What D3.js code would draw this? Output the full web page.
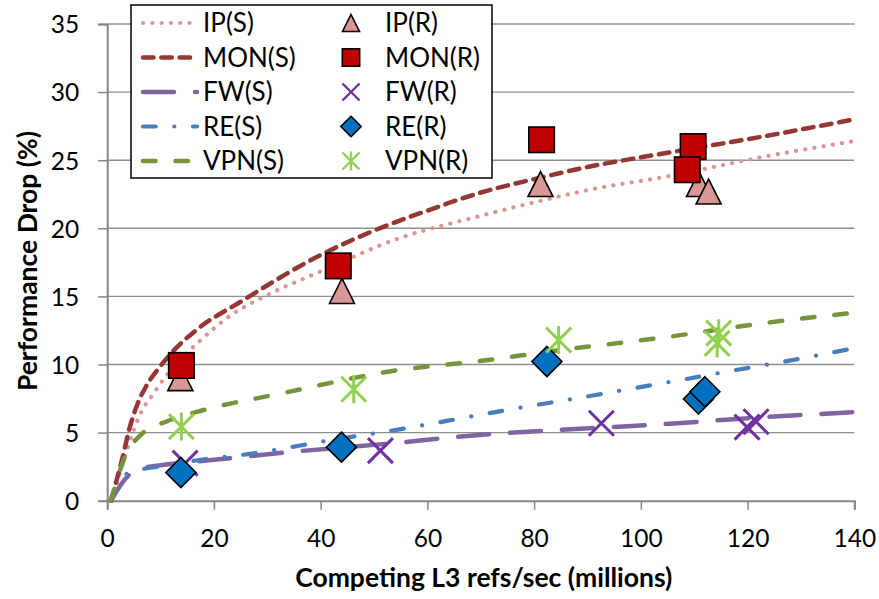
<!DOCTYPE html>
<html>
<head>
<meta charset="utf-8">
<script src="https://cdn.jsdelivr.net/npm/d3@7"></script>
<style>
  html, body { margin: 0; padding: 0; background: #fff; }
  svg { display: block; }
  text { font-family: Lato, "Open Sans", "Liberation Sans", sans-serif; fill: #000; }
</style>
</head>
<body>
<svg id="chart" width="879" height="599"></svg>
<script>
// Axis ticks
const xTicks = [0, 20, 40, 60, 80, 100, 120, 140];
const yTicks = [0, 5, 10, 15, 20, 25, 30, 35];

// Simulated curves: [refs/sec (millions), performance drop (%)]
const ipSim = [[0.8,0],[1.5,0.9],[3,2.8],[4.1,4.2],[6,6.2],[9.1,8.1],[11,9.15],[17,11.6],[23.5,13.7],[30,15.1],[39.8,16.8],[54.2,19.2],[69.8,20.9],[81,22.0],[90,22.8],[104.8,23.8],[122.3,25.2],[140,26.4]];
const monSim = [[0.8,0],[1.3,0.8],[2.9,3.2],[4.1,5.2],[6,7.4],[7.3,8.4],[9.8,9.8],[12.9,11.2],[16.6,12.5],[25.4,14.7],[39.8,18.0],[49.8,19.8],[60,21.3],[69.8,22.6],[81,23.7],[90,24.5],[103.6,25.45],[122.3,26.7],[140,28.0]];
const fwSim = [[0.7,0],[1.6,0.6],[4.1,1.9],[6.9,2.4],[10,2.6],[14.8,2.8],[20,3.0],[32.3,3.5],[53.5,4.22],[69.8,4.83],[88.6,5.28],[103.6,5.6],[121.7,6.1],[140,6.5]];
const reSim = [[0.7,0],[1.5,0.9],[2.5,1.5],[3.8,2.0],[7,2.35],[11,2.55],[16.6,2.95],[27.9,3.5],[42.2,4.47],[54.2,5.2],[69.8,6.3],[79.2,6.95],[88.6,7.56],[98.1,8.22],[107.5,8.86],[117,9.54],[126.4,10.18],[140,11.2]];
const vpnSim = [[0.6,0],[1,0.45],[3.2,3.1],[6.6,4.95],[11,5.8],[16.6,6.5],[32.9,7.9],[54.8,9.6],[69.8,10.25],[82.4,10.93],[106,12.08],[122.3,13.0],[140,13.8]];

// Measured runs: [refs/sec (millions), performance drop (%)]
const ipReal = [[13.7,9.0],[44.0,15.4],[81.2,23.25],[110.9,23.25],[112.7,22.7]];
const monReal = [[13.9,9.93],[43.3,17.24],[81.4,26.5],[109.8,26.0],[108.7,24.3]];
const fwReal = [[14.6,2.76],[51.2,3.68],[92.6,5.69],[121.6,5.8],[119.9,5.4]];
const reReal = [[13.8,2.07],[43.9,3.93],[82.4,10.22],[110.8,7.47],[112.0,8.0]];
const vpnReal = [[13.9,5.44],[46.2,8.18],[84.6,11.79],[114.6,12.3],[114.3,11.55]];

const simSeries = [
  { name: "IP(S)",  data: ipSim,  color: "#d99694", width: 4.2, dash: "0.1 9.2" },
  { name: "MON(S)", data: monSim, color: "#953735", width: 4.5, dash: "10.5 7.8" },
  { name: "FW(S)",  data: fwSim,  color: "#8064a2", width: 4.5, dash: "31 21" },
  { name: "RE(S)",  data: reSim,  color: "#4a7ebb", width: 4.2, dash: "12.7 18.6 0.1 18.6" },
  { name: "VPN(S)", data: vpnSim, color: "#77933c", width: 4.5, dash: "12.5 20" }
];
const realSeries = [
  { name: "IP(R)",  data: ipReal,  shape: "triangle", fill: "#d99694" },
  { name: "MON(R)", data: monReal, shape: "square",   fill: "#c00000" },
  { name: "FW(R)",  data: fwReal,  shape: "x",        fill: "#7030a0" },
  { name: "RE(R)",  data: reReal,  shape: "diamond",  fill: "#0070c0" },
  { name: "VPN(R)", data: vpnReal, shape: "star",     fill: "#92d050" }
];

const svg = d3.select("#chart");
const plot = { left: 107.2, right: 854.3, top: 24, bottom: 500.7 };

const x = d3.scaleLinear().domain([0, 140]).range([plot.left, plot.right]);
const y = d3.scaleLinear().domain([0, 35]).range([plot.bottom, plot.top]);

// Horizontal gridlines
svg.append("g")
  .selectAll("line")
  .data(yTicks.filter(d => d > 0))
  .join("line")
  .attr("x1", plot.left).attr("x2", plot.right)
  .attr("y1", d => y(d)).attr("y2", d => y(d))
  .attr("stroke", "#8f8f8f").attr("stroke-width", 1.4);

// Y axis
const yAxis = svg.append("g")
  .attr("transform", `translate(${plot.left},0)`)
  .call(d3.axisLeft(y).tickValues(yTicks).tickSize(9).tickPadding(19));
// X axis
const xAxis = svg.append("g")
  .attr("transform", `translate(0,${plot.bottom})`)
  .call(d3.axisBottom(x).tickValues(xTicks).tickSize(9).tickPadding(20));

[yAxis, xAxis].forEach(g => {
  g.select(".domain").attr("stroke", "#868686").attr("stroke-width", 2);
  g.selectAll(".tick line").attr("stroke", "#868686").attr("stroke-width", 1.5);
  g.selectAll(".tick text")
    .attr("font-family", "Lato, 'Open Sans', sans-serif")
    .attr("font-size", 24.5).attr("fill", "#000");
});
xAxis.selectAll(".tick text").attr("dy", "0.72em");
yAxis.selectAll(".tick text").attr("dy", "0.36em");

// Axis titles
svg.append("text")
  .attr("x", (plot.left + plot.right) / 2 + 3).attr("y", 587)
  .attr("text-anchor", "middle")
  .attr("font-weight", "bold").attr("font-size", 26.5)
  .text("Competing L3 refs/sec (millions)");
svg.append("text")
  .attr("transform", "translate(37,261) rotate(-90)")
  .attr("text-anchor", "middle")
  .attr("font-weight", "bold").attr("font-size", 26.5)
  .text("Performance Drop (%)");

// Curves
const line = d3.line()
  .x(d => x(d[0])).y(d => y(d[1]))
  .curve(d3.curveMonotoneX);

svg.append("g")
  .selectAll("path")
  .data(simSeries)
  .join("path")
  .attr("d", s => line(s.data))
  .attr("fill", "none")
  .attr("stroke", s => s.color)
  .attr("stroke-width", s => s.width)
  .attr("stroke-dasharray", s => s.dash)
  .attr("stroke-linecap", "round");

// Marker drawing
function drawMarker(g, shape, fill, cx, cy, k) {
  if (shape === "triangle") {
    const w = 25 * k, h = 25 * k;
    g.append("path")
      .attr("d", `M${cx},${cy - h / 2}L${cx + w / 2},${cy + h / 2}L${cx - w / 2},${cy + h / 2}Z`)
      .attr("fill", fill).attr("stroke", "#000").attr("stroke-width", 1.6).attr("stroke-linejoin", "miter");
  } else if (shape === "square") {
    const s = 25.5 * k;
    g.append("rect")
      .attr("x", cx - s / 2).attr("y", cy - s / 2).attr("width", s).attr("height", s)
      .attr("fill", fill).attr("stroke", "#000").attr("stroke-width", 1.6);
  } else if (shape === "diamond") {
    const r = 15 * k;
    g.append("path")
      .attr("d", `M${cx},${cy - r}L${cx + r},${cy}L${cx},${cy + r}L${cx - r},${cy}Z`)
      .attr("fill", fill).attr("stroke", "#000").attr("stroke-width", 1.6);
  } else if (shape === "x") {
    const r = 12.5 * k;
    g.append("path")
      .attr("d", `M${cx - r},${cy - r}L${cx + r},${cy + r}M${cx - r},${cy + r}L${cx + r},${cy - r}`)
      .attr("stroke", fill).attr("stroke-width", 3 * Math.max(k, 0.8)).attr("fill", "none");
  } else if (shape === "star") {
    const r = 12.5 * k, v = 14 * k;
    g.append("path")
      .attr("d", `M${cx - r},${cy - r}L${cx + r},${cy + r}M${cx - r},${cy + r}L${cx + r},${cy - r}M${cx},${cy - v}L${cx},${cy + v}`)
      .attr("stroke", fill).attr("stroke-width", 3 * Math.max(k, 0.8)).attr("fill", "none");
  }
}

const markers = svg.append("g");
realSeries.forEach(s => {
  const g = markers.append("g");
  s.data.forEach(d => drawMarker(g, s.shape, s.fill, x(d[0]), y(d[1]), 1));
});

// Legend
const legend = svg.append("g");
legend.append("rect")
  .attr("x", 131).attr("y", 5).attr("width", 361).attr("height", 173)
  .attr("fill", "#fff").attr("stroke", "#000").attr("stroke-width", 1.5);

const rowY = d3.scalePoint().domain(d3.range(5)).range([23, 161]);
simSeries.forEach((s, i) => {
  const yy = rowY(i);
  legend.append("line")
    .attr("x1", 143).attr("x2", 197).attr("y1", yy).attr("y2", yy)
    .attr("stroke", s.color).attr("stroke-width", s.width)
    .attr("stroke-dasharray", s.dash).attr("stroke-linecap", "round");
  legend.append("text")
    .attr("x", 203).attr("y", yy).attr("dy", "0.36em")
    .attr("font-size", 26).text(s.name);
});
realSeries.forEach((s, i) => {
  const yy = rowY(i);
  drawMarker(legend.append("g"), s.shape, s.fill, 351, yy, 0.68);
  legend.append("text")
    .attr("x", 385).attr("y", yy).attr("dy", "0.36em")
    .attr("font-size", 26).text(s.name);
});
</script>
</body>
</html>
